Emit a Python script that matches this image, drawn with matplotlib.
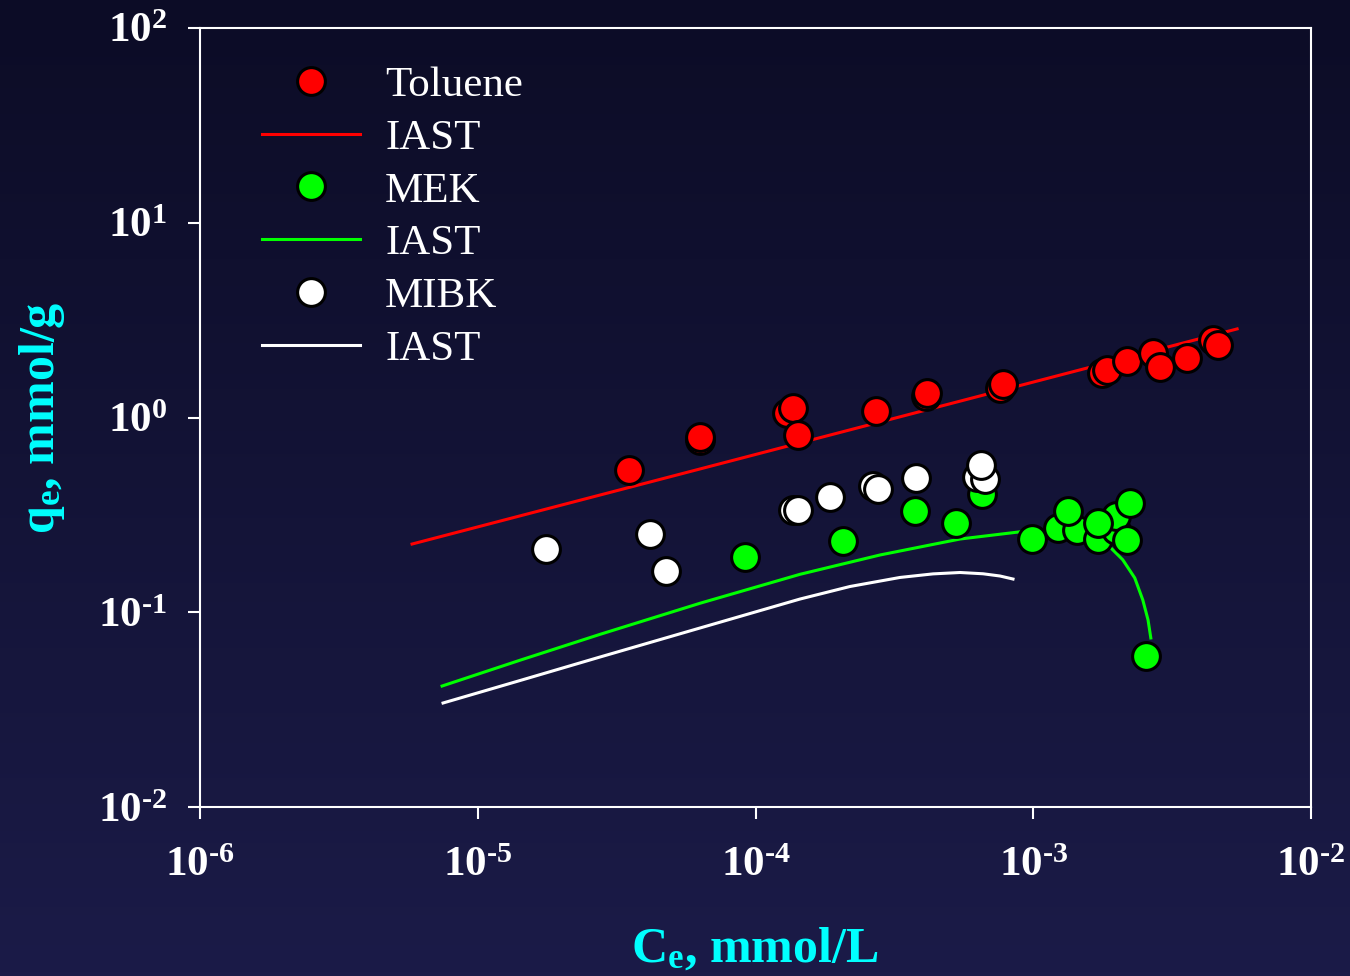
import numpy as np
import matplotlib
matplotlib.use('Agg')
import matplotlib.pyplot as plt
from matplotlib.ticker import FixedLocator, FuncFormatter, NullLocator

plt.rcParams['font.family'] = 'Liberation Serif'
plt.rcParams['font.weight'] = 'bold'
plt.rcParams['axes.unicode_minus'] = False
plt.rcParams['mathtext.fontset'] = 'custom'
plt.rcParams['mathtext.rm'] = 'Liberation Serif:bold'
plt.rcParams['mathtext.it'] = 'Liberation Serif:bold'
plt.rcParams['mathtext.bf'] = 'Liberation Serif:bold'

# measured points (Ce in mmol/L, qe in mmol/g)
toluene_c = [3.5e-5, 6.3e-5, 6.3e-5, 1.30e-4, 1.36e-4, 1.42e-4, 2.72e-4, 4.11e-4, 4.15e-4,
             7.6e-4, 7.8e-4, 1.77e-3, 1.84e-3, 2.18e-3, 2.70e-3, 2.86e-3, 3.58e-3, 4.44e-3, 4.62e-3]
toluene_q = [0.537, 0.77, 0.79, 1.05, 1.12, 0.81, 1.08, 1.29, 1.33,
             1.42, 1.49, 1.69, 1.75, 1.95, 2.14, 1.82, 2.02, 2.50, 2.36]

mek_c = [9.2e-5, 2.07e-4, 3.75e-4, 5.27e-4, 6.54e-4, 9.9e-4, 1.23e-3, 1.44e-3, 1.33e-3,
         1.71e-3, 1.99e-3, 1.99e-3, 2.18e-3, 2.23e-3, 1.71e-3, 2.55e-3]
mek_q = [0.192, 0.232, 0.331, 0.287, 0.405, 0.238, 0.271, 0.264, 0.331,
         0.238, 0.264, 0.312, 0.235, 0.364, 0.287, 0.0596]

mibk_c = [1.76e-5, 4.17e-5, 4.76e-5, 1.36e-4, 1.42e-4, 1.85e-4, 2.65e-4, 2.76e-4, 3.78e-4,
          6.27e-4, 6.70e-4, 6.49e-4]
mibk_q = [0.211, 0.252, 0.163, 0.335, 0.335, 0.391, 0.445, 0.43, 0.489,
          0.495, 0.483, 0.570]

# IAST predictions
iast_tol_c = [5.8e-6, 5.42e-3]
iast_tol_q = [0.224, 2.85]

iast_mek_c = [7.44e-6, 1.419e-5, 2.755e-5, 6.31e-5, 1.446e-4, 2.807e-4, 5.45e-4, 8.96e-4,
              1.248e-3, 1.601e-3, 1.86e-3, 2.10e-3, 2.32e-3, 2.48e-3, 2.59e-3, 2.65e-3]
iast_mek_q = [0.0418, 0.0567, 0.0770, 0.1112, 0.1566, 0.1968, 0.2377, 0.2588,
              0.2637, 0.2493, 0.221, 0.186, 0.150, 0.1156, 0.0913, 0.0738]

iast_mibk_c = [7.50e-6, 1.419e-5, 2.755e-5, 6.31e-5, 1.446e-4, 2.189e-4, 3.314e-4, 4.356e-4,
               5.45e-4, 6.594e-4, 7.59e-4, 8.455e-4]
iast_mibk_q = [0.0342, 0.0446, 0.0589, 0.0830, 0.1169, 0.1356, 0.1509, 0.1574,
               0.1600, 0.1576, 0.1535, 0.1481]

W, H = 1350, 976
fig = plt.figure(figsize=(W / 100, H / 100), dpi=100)

# dark blue gradient background
bg = fig.add_axes([0, 0, 1, 1], zorder=-10)
top = np.array([12, 12, 38]) / 255
bottom = np.array([27, 27, 72]) / 255
t = np.linspace(0, 1, 256)[:, None, None]
bg.imshow(top + (bottom - top) * t, aspect='auto', extent=[0, 1, 0, 1])
bg.axis('off')

ax = fig.add_axes([200 / W, 1 - 807 / H, 1111 / W, 779 / H])
ax.set_facecolor('none')
ax.set_xscale('log')
ax.set_yscale('log')

ms, mew, lw = 20, 2.2, 2.2
p1, = ax.plot(toluene_c, toluene_q, 'o', ms=ms, mfc='#ff0000', mec='black', mew=mew, zorder=5)
l1, = ax.plot(iast_tol_c, iast_tol_q, '-', color='#ff0000', lw=lw, zorder=3)
p2, = ax.plot(mek_c, mek_q, 'o', ms=ms, mfc='#00ff00', mec='black', mew=mew, zorder=5)
l2, = ax.plot(iast_mek_c, iast_mek_q, '-', color='#00ff00', lw=lw, zorder=3)
p3, = ax.plot(mibk_c, mibk_q, 'o', ms=ms, mfc='white', mec='black', mew=mew, zorder=5)
l3, = ax.plot(iast_mibk_c, iast_mibk_q, '-', color='white', lw=lw, zorder=3)

ax.set_xlim(1e-6, 1e-2)
ax.set_ylim(1e-2, 1e2)


def pow_label(v, pos):
    e = int(round(np.log10(v)))
    s = str(e).replace('-', '\u2010')
    return r'$\mathdefault{10^{%s}}$' % s


fmt = FuncFormatter(pow_label)
ax.xaxis.set_major_locator(FixedLocator([1e-6, 1e-5, 1e-4, 1e-3, 1e-2]))
ax.yaxis.set_major_locator(FixedLocator([1e-2, 1e-1, 1e0, 1e1, 1e2]))
ax.xaxis.set_minor_locator(NullLocator())
ax.yaxis.set_minor_locator(NullLocator())
ax.xaxis.set_major_formatter(fmt)
ax.yaxis.set_major_formatter(fmt)
ax.tick_params(axis='x', direction='out', length=8.6, width=1.5, color='white',
               labelcolor='white', labelsize=31, pad=20)
ax.tick_params(axis='y', direction='out', length=8.6, width=1.5, color='white',
               labelcolor='white', labelsize=31, pad=15)
for s in ax.spines.values():
    s.set_color('white')
    s.set_linewidth(1.5)

fig.text(755 / W, 1 - 962 / H, r'C$_\mathdefault{e}$, mmol/L', color='#00ffff',
         fontsize=36, fontweight='bold', ha='center', va='baseline')
fig.text(42 / W, 1 - 418 / H, r'q$_\mathdefault{e}$, mmol/g', color='#00ffff',
         fontsize=36, fontweight='bold', ha='center', va='center', rotation=90)

leg = ax.legend([p1, l1, p2, l2, p3, l3], ['Toluene', 'IAST', 'MEK', 'IAST', 'MIBK', 'IAST'],
                loc='upper left', bbox_to_anchor=(262 / W, 1 - 66 / H),
                bbox_transform=fig.transFigure, frameon=False, numpoints=1,
                prop={'family': 'Liberation Serif', 'size': 31, 'weight': 'normal'},
                handlelength=2.28, handletextpad=0.58, labelspacing=0.315,
                borderpad=0, borderaxespad=0)
for txt in leg.get_texts():
    txt.set_color('white')

fig.savefig('out.png', dpi=100)
